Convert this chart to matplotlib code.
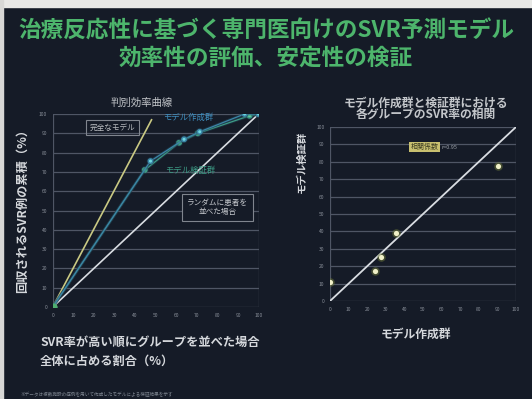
import matplotlib.pyplot as plt
import matplotlib.patheffects as pe

plt.rcParams['font.family'] = ['Noto Sans CJK JP', 'DejaVu Sans']

# 判別効率曲線 (left panel)
ticks = list(range(0, 101, 10))
perfect_x = [0, 48]
perfect_y = [0, 97]
random_x = [0, 100]
random_y = [0, 100]
build_x = [0, 47.5, 63.8, 71.4, 93.2, 100]
build_y = [0, 75.6, 86.9, 90.8, 100, 100]
valid_x = [0, 44.7, 61.4, 70.5, 95.6, 100]
valid_y = [0, 71.0, 85.1, 90.0, 99.1, 100]

# group SVR rates, model building vs validation (right panel)
svr_build = [0, 24.2, 27.2, 35.3, 90.2]
svr_valid = [11.1, 17.2, 25.5, 39.3, 77.6]

bg = '#151b27'
grid_c = '#4f5665'
txt_c = '#d5d8dc'
tick_c = '#8a909a'

fig = plt.figure(figsize=(5.32, 3.99), dpi=100, facecolor=bg)
W, H = 532, 399


def fx(px):
    return px / W


def fy(py):
    return 1 - py / H


# light frame on the top and left edges
fig.patches.append(plt.Rectangle((0, fy(7)), 1, 7 / H, transform=fig.transFigure,
                                 color='#e8e8e6', zorder=0))
fig.patches.append(plt.Rectangle((0, 0), 3 / W, 1, transform=fig.transFigure,
                                 color='#d8d8d6', zorder=0))

title_c = '#4db56c'
fig.text(0.5, fy(31), '治療反応性に基づく専門医向けのSVR予測モデル', color=title_c,
         fontsize=16.3, fontweight='bold', ha='center', va='center')
fig.text(0.5, fy(58), '効率性の評価、安定性の検証', color=title_c,
         fontsize=16.3, fontweight='bold', ha='center', va='center')


def style_axes(ax):
    ax.set_facecolor(bg)
    ax.set_xlim(0, 100)
    ax.set_ylim(0, 100)
    ax.set_xticks(ticks)
    ax.set_yticks(ticks)
    ax.tick_params(colors=tick_c, labelsize=3.5, length=0, pad=4)
    for t in ticks[1:]:
        ax.axhline(t, color=grid_c, lw=0.9, zorder=1)
    ax.axvline(100, color=grid_c, lw=0.9, zorder=1)
    for s in ax.spines.values():
        s.set_visible(False)
    ax.axhline(0, color=grid_c, lw=0.9, zorder=1)
    ax.axvline(0, color=grid_c, lw=0.9, zorder=1)


# left panel
ax1 = fig.add_axes([fx(52.7), fy(307), fx(258.6 - 52.7), (307 - 114) / H])
style_axes(ax1)
ax1.plot(perfect_x, perfect_y, color='#c9c983', lw=1.2, zorder=3)
ax1.plot(random_x, random_y, color='#d9dde2', lw=1.2, zorder=3)
glow = [pe.Stroke(linewidth=2.2, foreground='#24485a', alpha=0.5), pe.Normal()]
ax1.plot(valid_x, valid_y, color='#3d9c86', lw=0.9, marker='o', ms=3.2,
         mfc='#5fd0a0', mec='#3d9c86', zorder=4, path_effects=glow)
ax1.plot(build_x, build_y, color='#3b86a8', lw=0.9, marker='o', ms=3.2,
         mfc='#6fd8e0', mec='#3b86a8', zorder=5, path_effects=glow)
ax1.plot([0], [0], marker='o', ms=5, color='#4fae70', zorder=6)

ax1.text(29, 93, '完全なモデル', color='#b9bcc0', fontsize=5.5, ha='center', va='center',
         bbox=dict(boxstyle='square,pad=0.5', fc='none', ec='#80858e', lw=0.8), zorder=6)
ax1.text(66, 98, 'モデル作成群', color='#3f8fc0', fontsize=6, ha='center', va='center', zorder=6)
ax1.text(67, 70.5, 'モデル検証群', color='#3d9c86', fontsize=6, ha='center', va='center', zorder=6)
ax1.text(80, 51.5, 'ランダムに患者を\n並べた場合', color='#c6c9ce', fontsize=5.5,
         ha='center', va='center', linespacing=1.2,
         bbox=dict(boxstyle='square,pad=0.6', fc=bg, ec='#80858e', lw=0.8), zorder=6)

fig.text(fx(142), fy(103), '判別効率曲線', color='#c3c6ca', fontsize=7.5,
         ha='center', va='center')
fig.text(fx(22), fy(208), '回収されるSVR例の累積（%）', color=txt_c, fontsize=8.8,
         fontweight='bold', rotation=90, ha='center', va='center')
fig.text(fx(40), fy(342), 'SVR率が高い順にグループを並べた場合', color=txt_c,
         fontsize=8.8, fontweight='bold', ha='left', va='center')
fig.text(fx(40), fy(361), '全体に占める割合（%）', color=txt_c,
         fontsize=8.8, fontweight='bold', ha='left', va='center')

# right panel
ax2 = fig.add_axes([fx(330), fy(301), fx(516 - 330), (301 - 127) / H])
style_axes(ax2)
ax2.plot([0, 100], [0, 100], color='#d9dde2', lw=1.3, zorder=3)
ax2.scatter(svr_build, svr_valid, s=38, color='#6f7a3a', alpha=0.5, zorder=4, lw=0)
ax2.scatter(svr_build, svr_valid, s=14, color='#f0f0c8', zorder=5, lw=0)
ax2.text(51, 88.5, '相関係数', color='#3a3a20', fontsize=5, ha='center', va='center',
         bbox=dict(boxstyle='square,pad=0.2', fc='#c8c070', ec='none'), zorder=6)
ax2.text(60, 88.5, 'r=0.95', color='#9aa0a8', fontsize=4, ha='left', va='center', zorder=6)

fig.text(fx(426), fy(103), 'モデル作成群と検証群における', color='#c3c6ca', fontsize=8.5,
         fontweight='bold', ha='center', va='center')
fig.text(fx(426), fy(114.5), '各グループのSVR率の相関', color='#c3c6ca', fontsize=8.5,
         fontweight='bold', ha='center', va='center')
fig.text(fx(302), fy(162), 'モデル検証群', color=txt_c, fontsize=7.5, rotation=90,
         fontweight='bold', ha='center', va='center')
fig.text(fx(416), fy(334), 'モデル作成群', color=txt_c, fontsize=8.5,
         fontweight='bold', ha='center', va='center')

fig.text(fx(20), fy(395), '※データは複数施設の症例を用いて作成したモデルによる検証結果を示す',
         color='#7d8590', fontsize=3.3, ha='left', va='center')

fig.savefig('out.png', dpi=100, facecolor=bg)
